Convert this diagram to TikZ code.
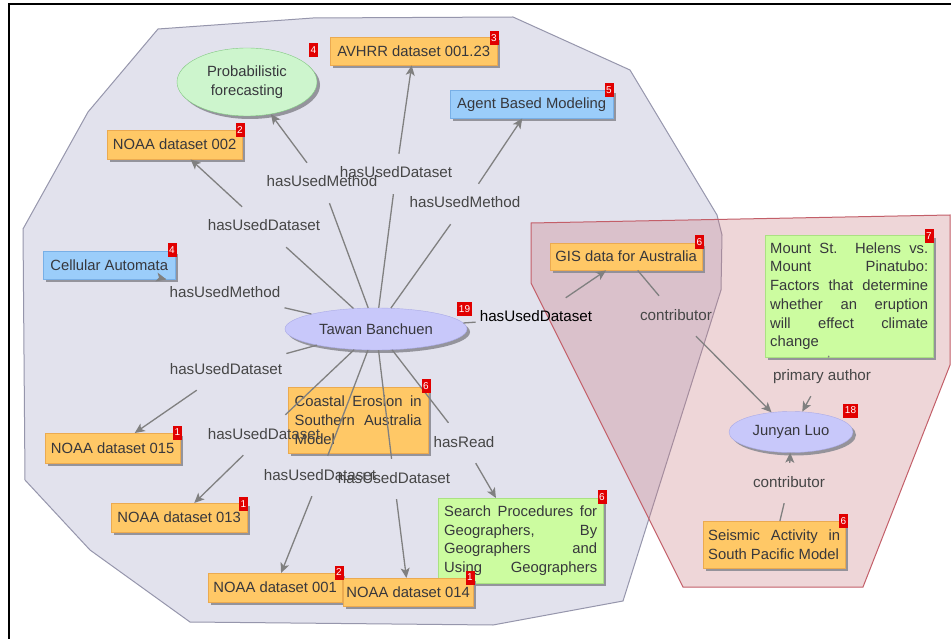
\documentclass[tikz,border=0pt]{standalone}
\usepackage{fontspec}
\setmainfont{Liberation Sans}
\usetikzlibrary{shapes.geometric,shadows,arrows.meta}

\definecolor{canvasgray}{RGB}{226,226,237}
\definecolor{canvasedge}{RGB}{150,150,172}
\definecolor{grouprose}{RGB}{200,120,126}
\definecolor{roseedge}{RGB}{195,95,105}
\definecolor{boxorange}{RGB}{255,200,102}
\definecolor{orangeedge}{RGB}{235,170,80}
\definecolor{boxblue}{RGB}{155,205,250}
\definecolor{blueedge}{RGB}{120,175,230}
\definecolor{boxgreen}{RGB}{204,252,160}
\definecolor{greenedge}{RGB}{170,225,130}
\definecolor{ellgreen}{RGB}{205,245,205}
\definecolor{ellgreenedge}{RGB}{130,200,130}
\definecolor{elllav}{RGB}{200,200,250}
\definecolor{lavedge}{RGB}{170,170,230}
\definecolor{edgegray}{RGB}{128,128,128}
\definecolor{labelgray}{RGB}{70,70,70}
\definecolor{textdark}{RGB}{55,55,60}
\definecolor{badgered}{RGB}{225,0,0}
\definecolor{shadowgray}{RGB}{140,140,148}

\newcommand\dgboxfont{\fontsize{14.8}{18.7}\selectfont\hyphenpenalty=10000\exhyphenpenalty=10000\tolerance=10000\hbadness=10000}
\newcommand\dglinkfont{\fontsize{15.2}{17}\selectfont}
\newcommand\dgbadgefont{\fontsize{10}{10}\selectfont}

\tikzset{
  nodebase/.style={inner sep=0pt, text=textdark, font=\dgboxfont,
    drop shadow={shadow xshift=3pt, shadow yshift=-3pt, fill=shadowgray, opacity=0.9}},
  databox/.style={nodebase, rectangle, anchor=north west, draw=orangeedge, fill=boxorange},
  methodbox/.style={nodebase, rectangle, anchor=north west, draw=blueedge, fill=boxblue},
  docbox/.style={nodebase, rectangle, anchor=north west, draw=greenedge, fill=boxgreen},
  person/.style={nodebase, ellipse, draw=lavedge, fill=elllav},
  topic/.style={nodebase, ellipse, draw=ellgreenedge, fill=ellgreen, align=center},
  badge/.style={fill=badgered, text=white, font=\dgbadgefont, inner sep=0pt,
    minimum width=9pt, minimum height=14pt},
  wbadge/.style={badge, minimum width=15pt},
  rel/.style={font=\dglinkfont, text=labelgray, inner xsep=4pt, inner ysep=13pt,
    text height=11pt, text depth=3pt},
  link/.style={draw=edgegray, line width=1.3pt},
  arrowlink/.style={link, -{Stealth[length=10pt,width=9pt,inset=2.5pt]}},
}

\begin{document}
\begin{tikzpicture}[x=1pt,y=-1pt]
\useasboundingbox (0,0) rectangle (951,639);
\fill[white] (0,0) rectangle (951,639);

% group outlines
\draw[draw=canvasedge, fill=canvasgray, line width=1pt]
  (158,29) -- (313,18) -- (513,17) -- (630,70) -- (717,215) -- (722,235)
  -- (721,290) -- (623,601) -- (493,625) -- (190,622) -- (90,550)
  -- (25,480) -- (23,229) -- (88,112) -- cycle;
\draw[draw=roseedge, fill=grouprose, fill opacity=0.3, line width=1pt]
  (531,223) -- (950,215) -- (950,365) -- (863,587) -- (683,587) -- (531,283) -- cycle;

% frame
\draw[line width=2.5pt] (9,639) -- (9,4) -- (951,4);

% resources
\node[databox, minimum width=167pt, minimum height=28pt] (avhrr) at (330,37) {AVHRR dataset 001.23};
\node[databox, minimum width=135pt, minimum height=29pt] (n002) at (107,130) {NOAA dataset 002};
\node[methodbox, minimum width=163pt, minimum height=28pt] (agent) at (450,90) {Agent Based Modeling};
\node[methodbox, minimum width=132pt, minimum height=28pt] (cell) at (43,251) {Cellular Automata};
\node[databox, text width=127pt, minimum width=140pt, minimum height=66pt, align=justify] (coast) at (288,387)
  {Coastal Erosion in\linebreak Southern Australia\linebreak Model};
\node[databox, minimum width=135pt, minimum height=30pt] (n015) at (45,433) {NOAA dataset 015};
\node[databox, minimum width=136pt, minimum height=29pt] (n013) at (111,503) {NOAA dataset 013};
\node[databox, minimum width=134pt, minimum height=29pt] (n001) at (208,573) {NOAA dataset 001};
\node[docbox, text width=153pt, minimum width=165pt, minimum height=85pt, align=justify] (search) at (438,498)
  {Search Procedures for\linebreak Geographers, By\linebreak Geographers and\linebreak
   \hbox to \linewidth{Using\hfill Geographers}};
\node[databox, minimum width=130pt, minimum height=28pt] (n014) at (343,578) {NOAA dataset 014};
\node[databox, minimum width=152pt, minimum height=27pt] (gis) at (550,243) {GIS data for Australia};
\node[docbox, text width=158pt, minimum width=168pt, minimum height=122pt, align=justify] (mount) at (765,235)
  {Mount St. Helens vs.\linebreak Mount Pinatubo:\linebreak Factors that determine\linebreak whether an eruption\linebreak will effect climate\linebreak change};
\node[databox, text width=132pt, minimum width=142pt, minimum height=47pt, align=justify] (seismic) at (703,521)
  {Seismic Activity in\linebreak South Pacific Model};

% people and topics
\node[topic, minimum width=140pt, minimum height=68pt] (prob) at (247,82) {Probabilistic\\forecasting};
\node[person, minimum width=182pt, minimum height=42pt] (tawan) at (376,329) {Tawan Banchuen};
\node[person, minimum width=124pt, minimum height=41pt] (junyan) at (791,432) {Junyan Luo};

% relation labels
\node[rel] (lProb) at (322,183) {hasUsedMethod};
\node[rel] (lAvhrr) at (396,174) {hasUsedDataset};
\node[rel] (lAgent) at (465,204) {hasUsedMethod};
\node[rel] (lN002) at (264,227) {hasUsedDataset};
\node[rel] (lCell) at (225,294) {hasUsedMethod};
\node[rel] (lN015) at (226,370) {hasUsedDataset};
\node[rel] (lN013) at (264,435) {hasUsedDataset};
\node[rel] (lN001) at (320,476) {hasUsedDataset};
\node[rel] (lN014) at (394,479) {hasUsedDataset};
\node[rel] (lRead) at (464,443) {hasRead};
\node[rel, text=black] (lGis) at (536,318) {hasUsedDataset};
\node[rel] (lContribA) at (676,316) {contributor};
\node[rel] (lPrimary) at (822,376) {primary author};
\node[rel] (lContribB) at (789,483) {contributor};

% relations of Tawan Banchuen
\draw[link] (tawan) -- (lProb);   \draw[arrowlink] (lProb) -- (prob);
\draw[link] (tawan) -- (lAvhrr);  \draw[arrowlink] (lAvhrr) -- (avhrr);
\draw[link] (tawan) -- (lAgent);  \draw[arrowlink] (lAgent) -- (agent);
\draw[link] (tawan) -- (lN002);   \draw[arrowlink] (lN002) -- (n002);
\draw[link] (tawan) -- (lCell);   \draw[arrowlink] (lCell) -- (cell);
\draw[link] (tawan) -- (lN015);   \draw[arrowlink] (lN015) -- (n015);
\draw[link] (tawan) -- (lN013);   \draw[arrowlink] (lN013) -- (n013);
\draw[link] (tawan) -- (lN001);   \draw[arrowlink] (lN001) -- (n001);
\draw[link] (tawan) -- (lN014);   \draw[arrowlink] (lN014) -- (n014);
\draw[link] (tawan) -- (lRead);   \draw[arrowlink] (lRead) -- (search);
\draw[link] (tawan) -- (lGis);    \draw[arrowlink] (lGis) -- (gis);

% relations of Junyan Luo
\draw[link] (gis) -- (lContribA);     \draw[arrowlink] (lContribA) -- (junyan);
\draw[link] (mount) -- (lPrimary);    \draw[arrowlink] (lPrimary) -- (junyan);
\draw[link] (seismic) -- (lContribB); \draw[arrowlink] (lContribB) -- (junyan);

% counters
\node[badge] (bAvhrr) at (494,38.5) {3};
\node[badge] (bProb) at (313.5,50) {4};
\node[badge] (bN002) at (240,130.5) {2};
\node[badge] (bAgent) at (609,90) {5};
\node[badge] (bCell) at (172,250) {4};
\node[wbadge] (bTawan) at (464.5,309) {19};
\node[badge] (bCoast) at (426,386) {6};
\node[badge] (bN015) at (177.5,432.5) {1};
\node[badge] (bN013) at (243.5,504) {1};
\node[badge] (bN001) at (339,572.5) {2};
\node[badge] (bN014) at (470,577.5) {1};
\node[badge] (bSearch) at (602,497) {6};
\node[badge] (bGis) at (699.5,242.5) {6};
\node[badge] (bMount) at (929,236) {7};
\node[wbadge] (bJunyan) at (850.5,410.5) {18};
\node[badge] (bSeismic) at (843.5,521) {6};
\end{tikzpicture}
\end{document}
